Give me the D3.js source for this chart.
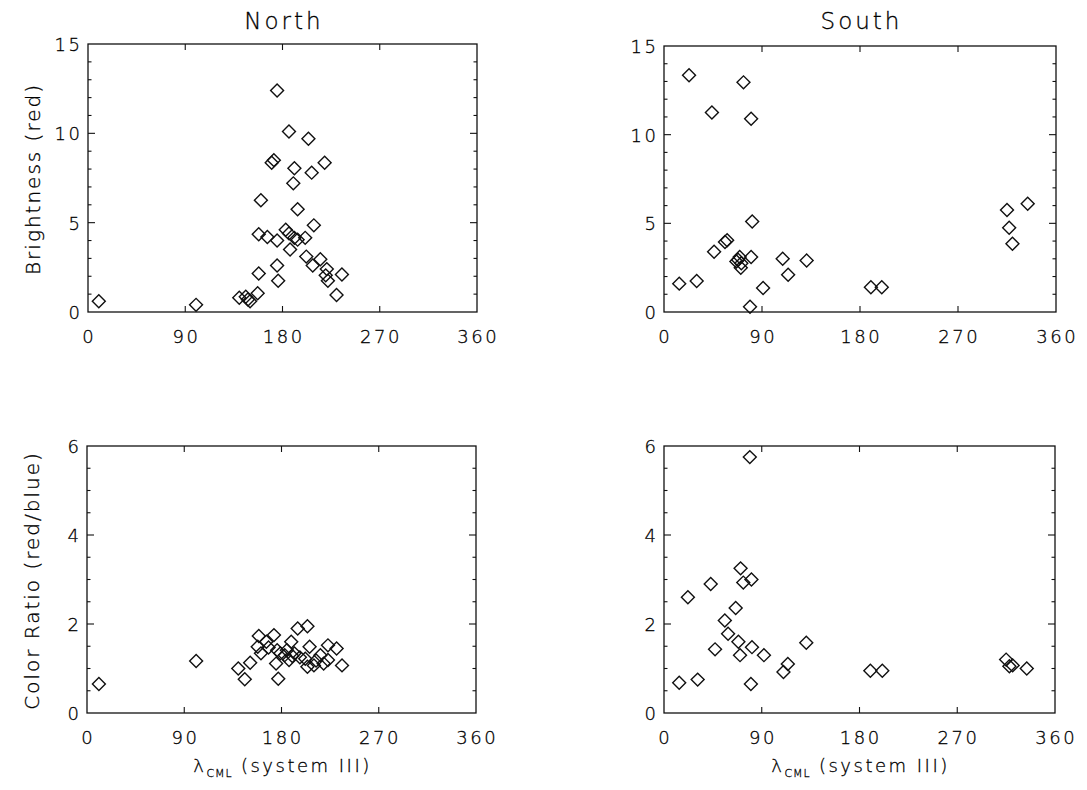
<!DOCTYPE html>
<html>
<head>
<meta charset="utf-8">
<script src="https://cdn.jsdelivr.net/npm/d3@7"></script>
<style>
  body { margin: 0; background: #fff; }
  svg { display: block; }
  text { font-family: "DejaVu Sans", "Liberation Sans", sans-serif; font-weight: 200; fill: #000; stroke: #000; stroke-width: 0.3px; }
</style>
</head>
<body>
<svg id="chart" width="1087" height="790"></svg>
<script>
// Central-meridian longitude (system III, degrees) and measured values, per hemisphere
const northBrightLon = [10, 100, 175, 186, 204, 172, 170, 191, 219, 207, 190, 160, 194, 209, 183, 158, 166, 175, 186, 191, 194, 201, 187, 202, 215, 208, 221, 220, 222, 235, 175, 176, 158, 230, 140, 146, 148, 157, 150];
const northBright    = [0.6, 0.4, 12.4, 10.1, 9.7, 8.5, 8.35, 8.05, 8.35, 7.8, 7.2, 6.25, 5.75, 4.85, 4.6, 4.35, 4.2, 4.0, 4.4, 4.15, 4.05, 4.15, 3.5, 3.1, 2.95, 2.6, 2.4, 2.05, 1.75, 2.1, 2.6, 1.75, 2.15, 0.95, 0.8, 0.85, 0.7, 1.05, 0.6];

const northRatioLon = [11, 101, 140, 146, 151, 159, 158, 161, 166, 168, 173, 176, 175, 177, 179, 185, 189, 187, 192, 195, 204, 206, 202, 204, 210, 216, 219, 223, 223, 231, 236, 190, 212, 197, 183];
const northRatio    = [0.65, 1.17, 1.0, 0.76, 1.13, 1.73, 1.49, 1.34, 1.6, 1.47, 1.75, 1.41, 1.11, 0.77, 1.34, 1.41, 1.6, 1.19, 1.34, 1.9, 1.95, 1.49, 1.22, 1.04, 1.07, 1.3, 1.11, 1.52, 1.19, 1.45, 1.07, 1.28, 1.18, 1.25, 1.3];

const southBrightLon = [14, 30, 23, 44, 73, 80, 46, 56, 58, 81, 80, 68, 69.5, 71, 70.5, 66.5, 109, 114, 131, 91, 79, 190, 200, 315, 317, 320, 334];
const southBright    = [1.6, 1.75, 13.35, 11.25, 12.95, 10.9, 3.4, 3.95, 4.05, 5.1, 3.1, 2.95, 3.1, 2.75, 2.5, 2.85, 3.0, 2.1, 2.9, 1.35, 0.3, 1.4, 1.4, 5.75, 4.75, 3.85, 6.1];

const southRatioLon = [14, 31, 22, 43, 47, 56, 59, 66, 70.5, 73, 80.5, 79, 68.5, 70, 81, 80, 92, 110, 114, 131, 190, 201, 315, 318, 321, 334];
const southRatio    = [0.68, 0.75, 2.6, 2.9, 1.43, 2.08, 1.78, 2.36, 3.25, 2.93, 3.0, 5.75, 1.6, 1.3, 1.48, 0.65, 1.3, 0.92, 1.1, 1.58, 0.95, 0.95, 1.2, 1.05, 1.07, 1.0];

const lonTicks = [0, 90, 180, 270, 360];
const brightTicks = [0, 5, 10, 15];
const ratioTicks = [0, 2, 4, 6];

const svg = d3.select("#chart");

const panels = [
  { left: 88,  right: 477,  top: 44,  bottom: 312, lon: northBrightLon, val: northBright, yMax: 15, ticks: brightTicks, minor: 1,   title: "North", ylabel: "Brightness (red)", xlabel: false },
  { left: 664, right: 1056, top: 46,  bottom: 312, lon: southBrightLon, val: southBright, yMax: 15, ticks: brightTicks, minor: 1,   title: "South", ylabel: null, xlabel: false },
  { left: 87,  right: 476,  top: 446, bottom: 713, lon: northRatioLon,  val: northRatio,  yMax: 6,  ticks: ratioTicks,  minor: 0.5, title: null, ylabel: "Color Ratio (red/blue)", xlabel: true },
  { left: 664, right: 1055, top: 446, bottom: 713, lon: southRatioLon,  val: southRatio,  yMax: 6,  ticks: ratioTicks,  minor: 0.5, title: null, ylabel: null, xlabel: true }
];

const diamond = d3.symbol().type(d3.symbolSquare).size(84);
const tickLS = 2.5;   // wide, plotter-style lettering

panels.forEach(p => {
  const x = d3.scaleLinear().domain([0, 360]).range([p.left, p.right]);
  const y = d3.scaleLinear().domain([0, p.yMax]).range([p.bottom, p.top]);
  const g = svg.append("g");

  // frame
  g.append("rect")
    .attr("x", p.left).attr("y", p.top)
    .attr("width", p.right - p.left).attr("height", p.bottom - p.top)
    .attr("fill", "none").attr("stroke", "#111").attr("stroke-width", 1.3);

  // x ticks (inward, bottom and top)
  const xt = lonTicks.slice(1, -1);
  g.selectAll(".xtb").data(xt).join("line")
    .attr("x1", d => x(d)).attr("x2", d => x(d))
    .attr("y1", p.bottom).attr("y2", p.bottom - 6)
    .attr("stroke", "#111").attr("stroke-width", 1.1);
  g.selectAll(".xtt").data(xt).join("line")
    .attr("x1", d => x(d)).attr("x2", d => x(d))
    .attr("y1", p.top).attr("y2", p.top + 6)
    .attr("stroke", "#111").attr("stroke-width", 1.1);

  // y ticks: minor and major, inward on both sides
  const minorVals = d3.range(p.minor, p.yMax, p.minor).map(v => +v.toFixed(3));
  minorVals.forEach(v => {
    const major = p.ticks.includes(v);
    const len = major ? 7 : 3.5;
    [[p.left, p.left + len], [p.right, p.right - len]].forEach(([a, b]) => {
      g.append("line")
        .attr("x1", a).attr("x2", b)
        .attr("y1", y(v)).attr("y2", y(v))
        .attr("stroke", "#111").attr("stroke-width", 1.1);
    });
  });

  // tick labels
  g.selectAll(".xl").data(lonTicks).join("text")
    .attr("x", d => x(d) + tickLS / 2).attr("y", p.bottom + 31)
    .attr("text-anchor", "middle")
    .style("font-size", "18px").style("letter-spacing", tickLS + "px")
    .text(d => d);
  g.selectAll(".yl").data(p.ticks).join("text")
    .attr("x", p.left - 8 + tickLS).attr("y", d => y(d) + 7)
    .attr("text-anchor", "end")
    .style("font-size", "18px").style("letter-spacing", tickLS + "px")
    .text(d => d);

  // points
  g.selectAll("path.pt").data(p.lon.map((l, i) => [l, p.val[i]])).join("path")
    .attr("class", "pt")
    .attr("d", diamond)
    .attr("transform", d => `translate(${x(d[0])},${y(d[1])}) rotate(45)`)
    .attr("fill", "none").attr("stroke", "#111").attr("stroke-width", 1.4);

  if (p.title) {
    g.append("text")
      .attr("x", (p.left + p.right) / 2 + 1.5).attr("y", 29)
      .attr("text-anchor", "middle")
      .style("font-size", "23px").style("letter-spacing", "3px")
      .text(p.title);
  }
  if (p.ylabel) {
    g.append("text")
      .attr("transform", `translate(${p.left - 48},${(p.top + p.bottom) / 2 + 1}) rotate(-90)`)
      .attr("text-anchor", "middle")
      .style("font-size", "20px").style("letter-spacing", "2px")
      .text(p.ylabel);
  }
  if (p.xlabel) {
    const t = g.append("text")
      .attr("x", (p.left + p.right) / 2 + 1).attr("y", p.bottom + 59)
      .attr("text-anchor", "middle")
      .style("font-size", "18px").style("letter-spacing", "2.5px");
    t.append("tspan").text("λ");
    t.append("tspan").attr("dy", 5).style("font-size", "11px").style("letter-spacing", "1px").text("CML");
    t.append("tspan").attr("dy", -5).text(" (system III)");
  }
});
</script>
</body>
</html>
